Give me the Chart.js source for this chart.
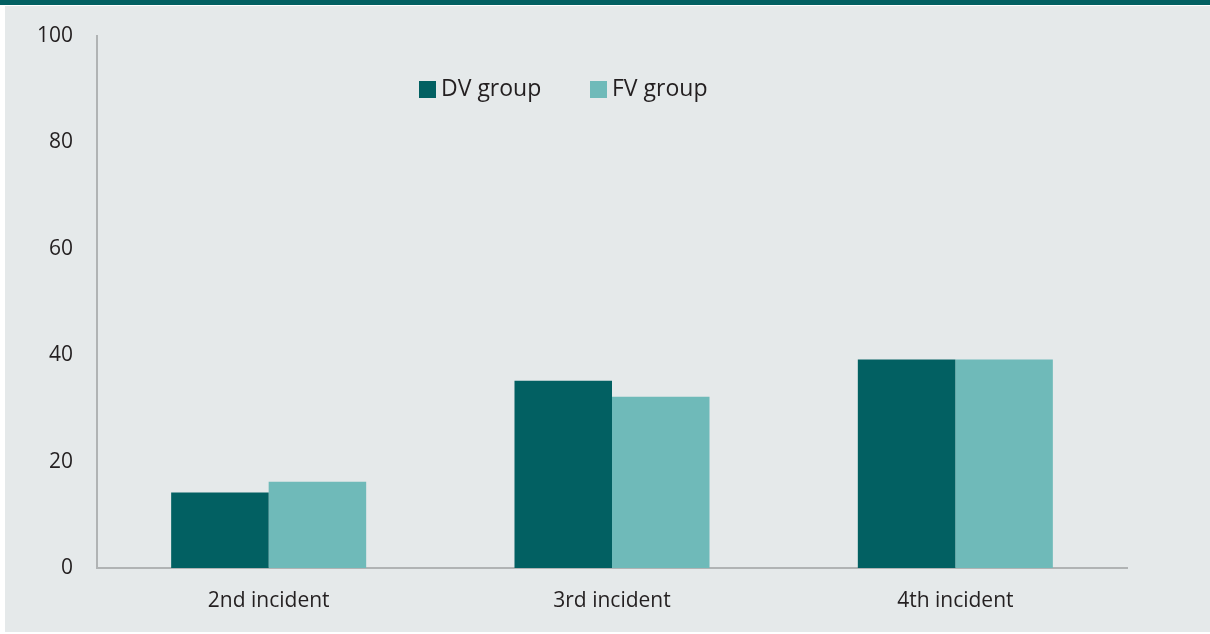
<!DOCTYPE html>
<html lang="en">
<head>
  <meta charset="UTF-8" />
  <title>Incidents</title>
  <script src="https://cdn.jsdelivr.net/npm/chart.js"></script>
  <style>
    html, body { margin: 0; padding: 0; background: #ffffff; }
    #wrap { position: absolute; left: 0; top: 0; width: 1210px; height: 634px; }
  </style>
</head>
<body>
  <div id="wrap"><canvas id="chart" width="1210" height="634"></canvas></div>

  <script>
    // data
    const categories = ['2nd incident', '3rd incident', '4th incident'];
    const dvGroup = [14.2, 35.2, 39.2];
    const fvGroup = [16.2, 32.2, 39.2];
    const seriesNames = ['DV group', 'FV group'];
    const yTicks = [0, 20, 40, 60, 80, 100];

    const dark = '#026062';
    const light = '#6fbab9';
    const fontFam = "'Open Sans', 'Noto Sans', sans-serif";

    // background panel + teal strip on top
    const panelBg = {
      id: 'panelBg',
      beforeDraw(chart) {
        const c = chart.ctx;
        c.save();
        c.fillStyle = '#ffffff';
        c.fillRect(0, 0, chart.width, chart.height);
        c.fillStyle = '#e5e9ea';
        c.fillRect(5, 6, chart.width - 5, chart.height - 8);
        c.fillStyle = dark;
        c.fillRect(0, 0, chart.width, 5);
        c.restore();
      }
    };

    // legend drawn inside the plot
    const innerLegend = {
      id: 'innerLegend',
      afterDraw(chart) {
        const c = chart.ctx;
        const a = chart.chartArea;
        let x = a.left + 322;
        const y = a.top + 45;
        c.save();
        c.font = '23px ' + fontFam;
        c.textBaseline = 'middle';
        chart.data.datasets.forEach(ds => {
          c.fillStyle = ds.backgroundColor;
          c.fillRect(x, y, 17, 17);
          c.fillStyle = '#231f20';
          c.fillText(ds.label, x + 22, y + 8);
          x += 171;
        });
        c.restore();
      }
    };

    new Chart(document.getElementById('chart'), {
      type: 'bar',
      data: {
        labels: categories,
        datasets: [
          { label: seriesNames[0], data: dvGroup, backgroundColor: dark },
          { label: seriesNames[1], data: fvGroup, backgroundColor: light }
        ]
      },
      options: {
        responsive: false,
        animation: false,
        layout: { padding: { left: 0, right: 83, top: 36, bottom: 0 } },
        plugins: {
          legend: { display: false },
          tooltip: { enabled: false }
        },
        datasets: {
          bar: { categoryPercentage: 0.568, barPercentage: 1.0 }
        },
        scales: {
          x: {
            grid: { display: false },
            border: { display: true, color: '#b0b3b4', width: 2 },
            ticks: { color: '#231f20', font: { family: fontFam, size: 21 }, padding: 12 },
            afterFit(scale) { scale.height = 66; }
          },
          y: {
            min: 0,
            max: 100,
            afterBuildTicks(scale) { scale.ticks = yTicks.map(v => ({ value: v })); },
            grid: { display: false },
            border: { display: true, color: '#b0b3b4', width: 2 },
            ticks: { color: '#231f20', font: { family: fontFam, size: 21 }, padding: 16 },
            afterFit(scale) { scale.width = 97; }
          }
        }
      },
      plugins: [panelBg, innerLegend]
    });
  </script>
</body>
</html>
